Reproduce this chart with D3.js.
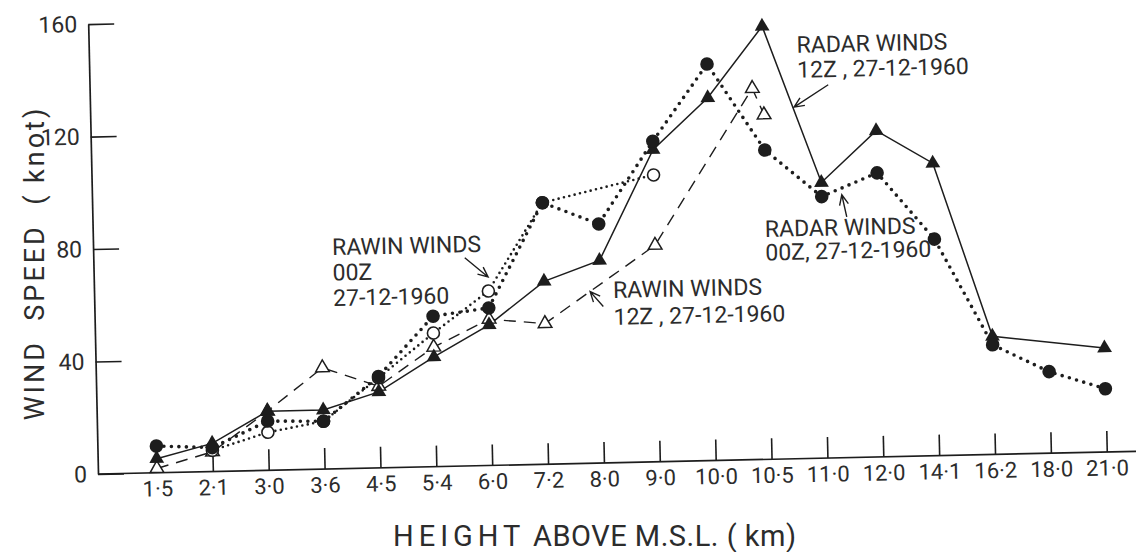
<!DOCTYPE html>
<html>
<head>
<meta charset="utf-8">
<script src="https://cdn.jsdelivr.net/npm/d3@7"></script>
<style>
  html, body { margin: 0; padding: 0; background: #ffffff; }
  svg { display: block; }
  text { font-family: Roboto, "Liberation Sans", "DejaVu Sans", sans-serif; fill: #2c2c2c; }
</style>
</head>
<body>
<svg id="chart" width="1136" height="552"></svg>
<script>
// Heights above M.S.L. (km), equally spaced along the x axis
const categories = ["1·5", "2·1", "3·0", "3·6", "4·5", "5·4", "6·0", "7·2", "8·0", "9·0",
                    "10·0", "10·5", "11·0", "12·0", "14·1", "16·2", "18·0", "21·0"];
const speedTicks = [0, 40, 80, 120, 160];

// Radar winds 12Z, 27-12-1960 (solid line, filled triangles); positions are category indices
const radar12Pos   = [0, 1, 2, 3, 4, 5, 6, 7, 8, 9, 10, 11, 12, 13, 14, 15, 17];
const radar12Speed = [5, 10, 21, 21, 27, 39, 50, 65, 72, 111, 129, 154, 98, 116, 104, 42, 37];

// Radar winds 00Z, 27-12-1960 (dotted line, filled circles)
const radar00Pos   = [0, 1, 2, 3, 4, 5, 6, 7, 8, 9, 10, 11, 12, 13, 14, 15, 16, 17];
const radar00Speed = [9.5, 8.5, 17.5, 17, 32.5, 53.5, 56, 93, 85, 114, 141, 110, 93, 101, 77, 39, 29, 22.5];

// Rawin winds 00Z, 27-12-1960 (fine dotted line, open circles)
const rawin00Pos   = [1, 2, 3, 4, 5, 6, 7, 9];
const rawin00Speed = [7.5, 13.5, 17, 32, 47.5, 62, 93, 102];

// Rawin winds 12Z, 27-12-1960 (dashed line, open triangles)
const rawin12Pos   = [0, 1, 2, 3, 4, 5, 6, 7, 9, 10.8, 11];
const rawin12Speed = [1.5, 7, 21, 36, 29, 42.5, 52, 50, 77, 132, 122.5];

const ink = "#1d1d1d";
const svg = d3.select("#chart");

// The sheet sits slightly askew, so the plot is turned a little about its origin
const origin = [98, 474];
const plot = svg.append("g").attr("transform", `rotate(-1.25, ${origin[0]}, ${origin[1]})`);

const x = d3.scaleLinear().domain([0, categories.length - 1]).range([157, 1107]);
const y = d3.scaleLinear().domain([0, 160]).range([origin[1], 24]);

// X axis: upward ticks, long base line
const xAxis = d3.axisBottom(x)
  .tickValues(d3.range(categories.length))
  .tickFormat(i => categories[i])
  .tickSizeInner(-21).tickSizeOuter(0).tickPadding(8);
const gx = plot.append("g").attr("transform", `translate(0, ${origin[1]})`).call(xAxis);
gx.select(".domain").remove();
gx.selectAll(".tick line").attr("stroke", ink).attr("stroke-width", 1.6);
gx.selectAll(".tick text").attr("font-size", 22).attr("fill", "#2c2c2c").attr("font-family", null);
plot.append("line")
  .attr("x1", origin[0]).attr("x2", 1145)
  .attr("y1", origin[1]).attr("y2", origin[1])
  .attr("stroke", ink).attr("stroke-width", 1.7);

// Y axis: ticks pointing into the plot
const yAxis = d3.axisLeft(y)
  .tickValues(speedTicks)
  .tickSizeInner(-26).tickSizeOuter(0).tickPadding(11);
const gy = plot.append("g").attr("transform", `translate(${origin[0]}, 0)`).call(yAxis);
gy.select(".domain").attr("stroke", ink).attr("stroke-width", 1.7);
gy.selectAll(".tick line").attr("stroke", ink).attr("stroke-width", 1.6);
gy.selectAll(".tick text").attr("font-size", 23).attr("fill", "#2c2c2c").attr("font-family", null);

function pts(pos, spd) { return pos.map((p, k) => ({ p, v: spd[k] })); }
const line = d3.line().x(d => x(d.p)).y(d => y(d.v));

const radar12 = pts(radar12Pos, radar12Speed);
const radar00 = pts(radar00Pos, radar00Speed);
const rawin00 = pts(rawin00Pos, rawin00Speed);
const rawin12 = pts(rawin12Pos, rawin12Speed);

// Lines
plot.append("path").datum(rawin12).attr("d", line)
  .attr("fill", "none").attr("stroke", ink).attr("stroke-width", 1.4)
  .attr("stroke-dasharray", "12 8");
plot.append("path").datum(rawin00).attr("d", line)
  .attr("fill", "none").attr("stroke", ink).attr("stroke-width", 2.6)
  .attr("stroke-linecap", "round").attr("stroke-dasharray", "0 5.5");
plot.append("path").datum(radar12).attr("d", line)
  .attr("fill", "none").attr("stroke", ink).attr("stroke-width", 1.5);
plot.append("path").datum(radar00).attr("d", line)
  .attr("fill", "none").attr("stroke", ink).attr("stroke-width", 3.6)
  .attr("stroke-linecap", "round").attr("stroke-dasharray", "0 7.5");

// Markers
const tri = d3.symbol(d3.symbolTriangle);
plot.append("g").selectAll("path").data(rawin12).join("path")
  .attr("d", tri.size(80)())
  .attr("transform", d => `translate(${x(d.p)}, ${y(d.v)})`)
  .attr("fill", "#ffffff").attr("stroke", ink).attr("stroke-width", 1.5);
plot.append("g").selectAll("circle").data(rawin00).join("circle")
  .attr("cx", d => x(d.p)).attr("cy", d => y(d.v)).attr("r", 6)
  .attr("fill", "#ffffff").attr("stroke", ink).attr("stroke-width", 1.6);
plot.append("g").selectAll("path").data(radar12).join("path")
  .attr("d", d3.symbol(d3.symbolTriangle).size(95)())
  .attr("transform", d => `translate(${x(d.p)}, ${y(d.v)})`)
  .attr("fill", ink);
plot.append("g").selectAll("circle").data(radar00).join("circle")
  .attr("cx", d => x(d.p)).attr("cy", d => y(d.v)).attr("r", 6.8)
  .attr("fill", ink);

// Series labels with pointer arrows
const labels = [
  { at: [3.22, 76], gap: 25.5, lines: ["RAWIN WINDS", "00Z", "27-12-1960"],
    from: [5.59, 74], to: [6.0, 67] },
  { at: [8.23, 58.6], gap: 27, lines: ["RAWIN WINDS", "12Z , 27-12-1960"],
    from: [8.05, 55.6], to: [7.82, 61] },
  { at: [11.61, 144.3], gap: 25, lines: ["RADAR WINDS", "12Z , 27-12-1960"],
    from: [12.16, 132.7], to: [11.54, 125] },
  { at: [10.97, 79.1], gap: 23.5, lines: ["RADAR WINDS", "00Z, 27-12-1960"],
    from: [12.44, 85.6], to: [12.36, 93.5] }
];
labels.forEach(lb => {
  const t = plot.append("text")
    .attr("x", x(lb.at[0])).attr("y", y(lb.at[1]))
    .attr("font-size", 23);
  lb.lines.forEach((s, k) => {
    t.append("tspan").attr("x", x(lb.at[0])).attr("dy", k === 0 ? 0 : lb.gap).text(s);
  });
  const x1 = x(lb.from[0]), y1 = y(lb.from[1]);
  const x2 = x(lb.to[0]), y2 = y(lb.to[1]);
  const ang = Math.atan2(y1 - y2, x1 - x2);
  const hl = 11, spread = 0.42;
  plot.append("path")
    .attr("d", `M${x1},${y1}L${x2},${y2}` +
      `M${x2 + hl * Math.cos(ang - spread)},${y2 + hl * Math.sin(ang - spread)}L${x2},${y2}` +
      `L${x2 + hl * Math.cos(ang + spread)},${y2 + hl * Math.sin(ang + spread)}`)
    .attr("fill", "none").attr("stroke", ink).attr("stroke-width", 1.4);
});

// Axis titles
const xt = svg.append("text").attr("x", 393).attr("y", 546).attr("font-size", 29);
xt.append("tspan").attr("letter-spacing", 5).text("HEIGHT");
xt.append("tspan").attr("letter-spacing", 0.5).text(" ABOVE M.S.L. ( km)");

svg.append("text")
  .attr("transform", "translate(44, 263) rotate(-90)")
  .attr("text-anchor", "middle")
  .attr("font-size", 27)
  .attr("letter-spacing", 3)
  .style("white-space", "pre")
  .text("WIND  SPEED  ( knot)");
</script>
</body>
</html>
